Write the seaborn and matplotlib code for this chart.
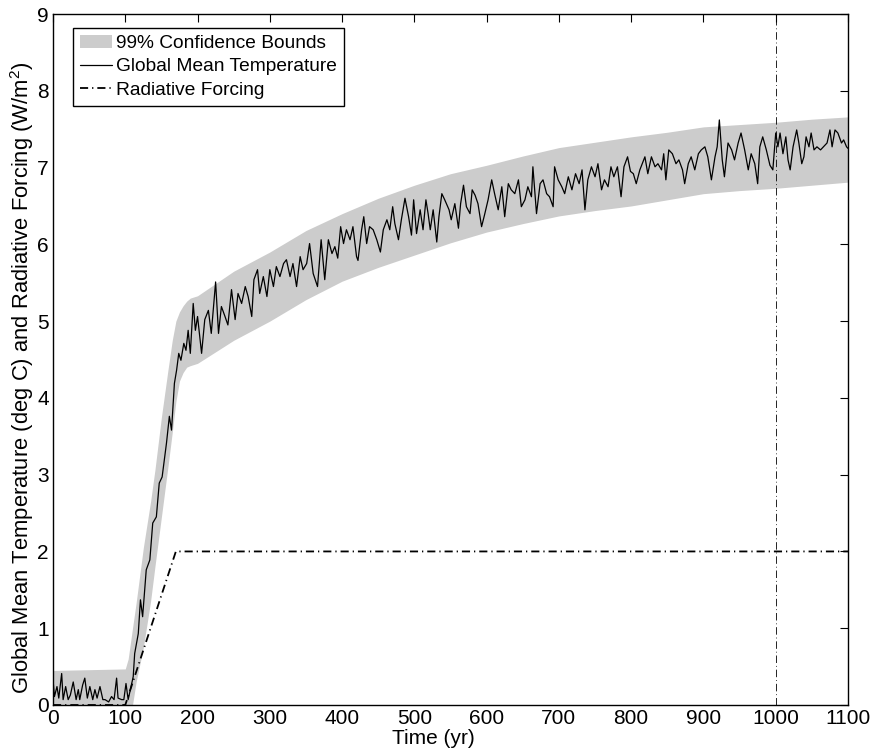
import numpy as np
import matplotlib
matplotlib.use("Agg")
import matplotlib.pyplot as plt
import seaborn as sns
from matplotlib.patches import Patch
from matplotlib.lines import Line2D

# ---------------- data ----------------
temp_years = [0, 2, 5.5, 8, 12, 14, 17.5, 21, 24, 28, 32, 35, 37, 41, 44, 47.5, 51, 55, 58, 61,
              65, 69, 72, 77, 81, 84.5, 88, 90, 95, 98, 101, 104, 107, 111, 113, 118, 121, 124,
              129, 134, 138, 143, 147, 151, 157, 161, 164, 168, 171, 174, 177, 181, 184, 187, 190,
              194, 197, 200, 205.6, 210, 215, 219, 225, 229, 233, 238, 242, 247, 252, 256, 261,
              266, 270, 275, 278, 283, 286, 291, 296, 300, 305, 309, 314, 319, 323, 328, 332, 337,
              342, 346, 351, 355, 360, 366, 371, 376, 381, 386, 390, 394, 398, 402, 406, 411, 415,
              420, 422, 427, 430, 434, 438, 443, 448, 453, 457, 462, 466, 470, 473, 478, 482, 487,
              492, 496, 499, 503, 508, 512, 516, 519, 522, 526, 531, 534, 538, 542, 548, 551, 556,
              561, 564, 568, 572, 577, 580, 584, 588, 593, 597, 602, 607, 611, 616, 621, 625, 630,
              634, 639, 644, 648, 653, 657, 662, 664, 669, 674, 678, 683, 687, 692, 694, 699, 704,
              708, 713, 718, 723, 728, 732, 736, 740, 745, 750, 754, 759, 763, 768, 772, 776, 781,
              786, 790, 795, 799, 803, 807, 812, 819, 823, 828, 833, 837, 842, 845, 848, 852, 857,
              862, 866, 871, 874, 879, 883, 888, 893, 897, 902, 906, 911, 916, 919, 922, 926, 929,
              934, 939, 943, 948, 952, 957, 962, 966, 971, 975, 978, 982, 987, 992, 996, 1000,
              1003, 1006, 1010, 1014, 1017, 1020, 1024, 1029, 1032, 1036, 1039, 1042, 1046, 1049,
              1053, 1057, 1062, 1066, 1071, 1075, 1078, 1082, 1086, 1091, 1094, 1098, 1100]
temp_values = [0.33, 0.11, 0.24, 0.09, 0.41, 0.07, 0.24, 0.07, 0.13, 0.30, 0.07, 0.20, 0.07, 0.26,
               0.35, 0.09, 0.24, 0.07, 0.20, 0.09, 0.24, 0.07, 0.07, 0.04, 0.11, 0.07, 0.35, 0.09,
               0.07, 0.07, 0.28, 0.07, 0.20, 0.37, 0.67, 0.93, 1.37, 1.15, 1.76, 1.89, 2.37, 2.45,
               2.89, 2.97, 3.41, 3.76, 3.58, 4.19, 4.36, 4.58, 4.49, 4.71, 4.62, 4.88, 4.58, 5.23,
               4.88, 5.06, 4.58, 5.02, 5.14, 4.84, 5.51, 4.84, 5.19, 5.06, 4.95, 5.41, 5.02, 5.36,
               5.23, 5.45, 5.32, 5.06, 5.54, 5.67, 5.36, 5.58, 5.32, 5.67, 5.45, 5.71, 5.58, 5.75,
               5.80, 5.58, 5.75, 5.45, 5.84, 5.67, 5.75, 6.01, 5.62, 5.45, 6.06, 5.54, 6.06, 5.88,
               5.97, 5.82, 6.23, 6.01, 6.19, 6.06, 6.23, 5.84, 5.79, 6.19, 6.36, 6.01, 6.23, 6.19,
               6.06, 5.90, 6.19, 6.32, 6.19, 6.49, 6.27, 6.06, 6.32, 6.60, 6.36, 6.12, 6.58, 6.14,
               6.45, 6.19, 6.58, 6.40, 6.19, 6.45, 6.03, 6.36, 6.66, 6.58, 6.45, 6.32, 6.53, 6.21,
               6.53, 6.77, 6.49, 6.40, 6.71, 6.64, 6.53, 6.23, 6.38, 6.58, 6.84, 6.66, 6.45, 6.75,
               6.36, 6.79, 6.71, 6.66, 6.84, 6.49, 6.58, 6.75, 6.62, 7.01, 6.40, 6.79, 6.84, 6.66,
               6.62, 6.49, 7.01, 6.84, 6.75, 6.66, 6.88, 6.71, 6.92, 6.79, 6.97, 6.45, 6.84, 7.01,
               6.88, 7.05, 6.71, 6.84, 6.75, 7.01, 6.88, 7.01, 6.62, 7.01, 7.14, 6.95, 6.92, 6.79,
               6.97, 7.14, 6.92, 7.14, 7.01, 7.05, 6.97, 7.18, 6.84, 7.23, 7.18, 7.05, 7.10, 6.97,
               6.79, 7.05, 7.14, 6.97, 7.18, 7.23, 7.27, 7.14, 6.84, 7.14, 7.27, 7.62, 7.10, 6.88,
               7.32, 7.23, 7.10, 7.32, 7.45, 7.23, 6.97, 7.18, 7.05, 6.79, 7.27, 7.40, 7.23, 7.03,
               6.97, 7.45, 7.27, 7.45, 7.18, 7.40, 7.10, 6.97, 7.27, 7.49, 7.32, 7.05, 7.14, 7.40,
               7.27, 7.45, 7.23, 7.27, 7.23, 7.27, 7.32, 7.49, 7.27, 7.49, 7.45, 7.32, 7.36, 7.27,
               7.25]

band_years = [0, 100, 104, 110, 115, 125, 135, 141, 150, 159, 165, 170, 175, 180, 185, 190, 200,
              250, 300, 350, 400, 450, 500, 550, 600, 650, 700, 750, 800, 850, 900, 950, 1000,
              1050, 1100]
band_upper = [0.45, 0.47, 0.60, 1.00, 1.33, 2.05, 2.65, 3.06, 3.75, 4.36, 4.75, 5.00, 5.12, 5.20,
              5.26, 5.30, 5.33, 5.65, 5.90, 6.18, 6.40, 6.60, 6.77, 6.92, 7.03, 7.15, 7.26, 7.33,
              7.40, 7.46, 7.53, 7.56, 7.59, 7.63, 7.66]
band_lower = [-0.10, -0.10, -0.08, 0.00, 0.30, 0.75, 1.35, 1.80, 2.45, 3.10, 3.55, 3.95, 4.22,
              4.33, 4.40, 4.42, 4.45, 4.75, 5.00, 5.28, 5.52, 5.70, 5.86, 6.02, 6.16, 6.27, 6.37,
              6.44, 6.50, 6.58, 6.66, 6.70, 6.73, 6.77, 6.81]

forcing_years = [0, 100, 170, 1100]
forcing_values = [0, 0, 2, 2]

marker_year = 1000

legend_labels = ["99% Confidence Bounds", "Global Mean Temperature", "Radiative Forcing"]
x_ticks = [0, 100, 200, 300, 400, 500, 600, 700, 800, 900, 1000, 1100]
y_ticks = [0, 1, 2, 3, 4, 5, 6, 7, 8, 9]

# ---------------- style ----------------
sns.set_style("white")
plt.rcParams["font.family"] = ["Liberation Sans", "DejaVu Sans"]
plt.rcParams["mathtext.fontset"] = "custom"
plt.rcParams["mathtext.rm"] = "Liberation Sans"
plt.rcParams["mathtext.it"] = "Liberation Sans"
plt.rcParams["text.color"] = "black"
plt.rcParams["axes.labelcolor"] = "black"
plt.rcParams["xtick.color"] = "black"
plt.rcParams["ytick.color"] = "black"

fig = plt.figure(figsize=(8.71, 7.49), dpi=100)
ax = fig.add_axes([53 / 871, 44 / 749, 795 / 871, 691 / 749])

gray = "#cccccc"
ax.fill_between(band_years, band_lower, band_upper, color=gray, linewidth=0, zorder=1)

sns.lineplot(x=temp_years, y=temp_values, ax=ax, color="black", linewidth=0.9,
             estimator=None, sort=False, zorder=3)
dashdot = (0, (4.5, 2.2, 0.7, 2.2))
sns.lineplot(x=forcing_years, y=forcing_values, ax=ax, color="black", linewidth=1.3,
             estimator=None, sort=False, zorder=2, linestyle=dashdot)
ax.axvline(marker_year, color="black", linewidth=0.6, linestyle=(0, (9, 3.5, 1, 3.5)), zorder=2)

ax.set_xlim(0, 1100)
ax.set_ylim(0, 9)
ax.set_xticks(x_ticks)
ax.set_yticks(y_ticks)
ax.tick_params(direction="in", top=True, right=True, length=6, width=0.8,
               labelsize=15, pad=3, color="black", labelcolor="black")
for s in ax.spines.values():
    s.set_visible(True)
    s.set_color("black")
    s.set_linewidth(1.0)

ax.set_xlabel("Time (yr)", fontsize=15, color="black")
ax.set_ylabel("Global Mean Temperature (deg C) and Radiative Forcing (W/m$^2$)",
              fontsize=15.8, color="black")
ax.xaxis.set_label_coords(0.478, -0.035)
ax.yaxis.set_label_coords(-0.022, 0.473)

handles = [Patch(facecolor=gray, edgecolor="none"),
           Line2D([], [], color="black", linewidth=0.9),
           Line2D([], [], color="black", linewidth=1.3, linestyle=dashdot)]
leg = ax.legend(handles, legend_labels, loc="upper left", bbox_to_anchor=(0.025, 0.98),
                borderaxespad=0, fontsize=13.8, frameon=True, fancybox=False, framealpha=1,
                edgecolor="black", handlelength=1.7, handletextpad=0.2, labelspacing=0.32,
                borderpad=0.35)
leg.get_frame().set_linewidth(1.0)
for t in leg.get_texts():
    t.set_color("black")

fig.savefig("out.png", dpi=100)
